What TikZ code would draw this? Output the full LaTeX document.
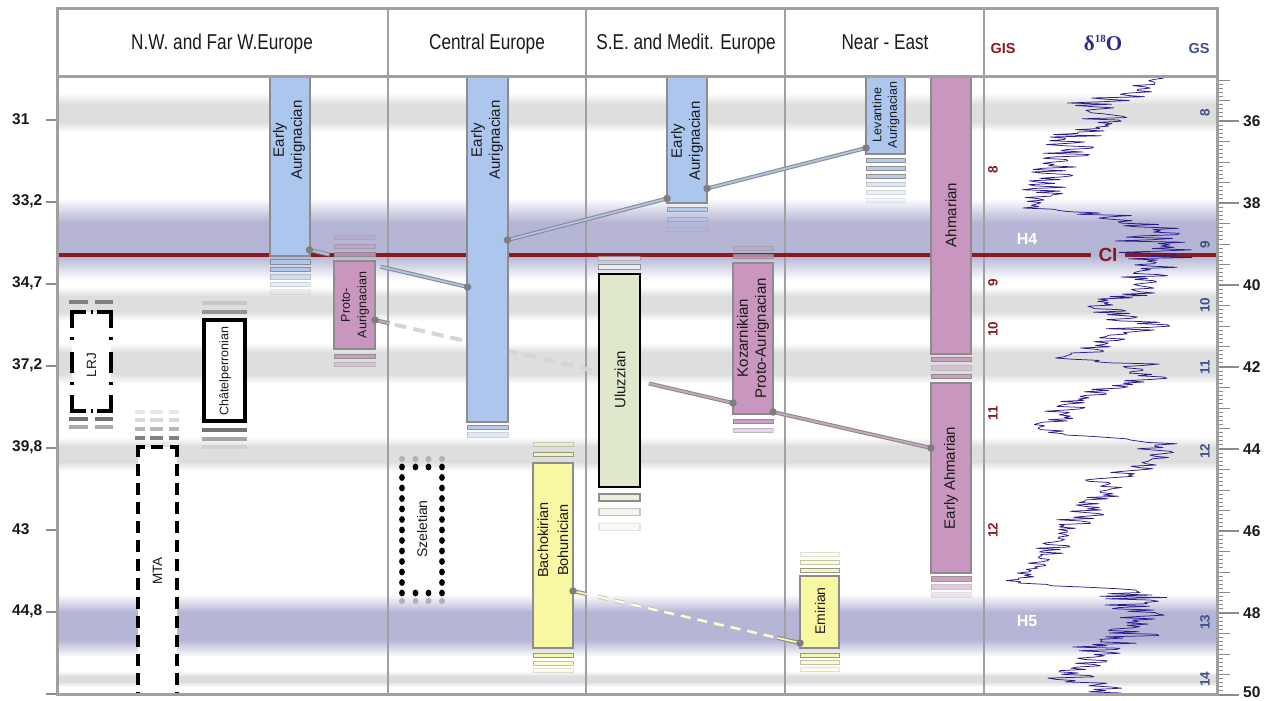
\documentclass[tikz,border=0pt]{standalone}
\usepackage{fontspec}
\setmainfont{Liberation Sans}
\newfontfamily\condf{Liberation Sans}[FakeStretch=0.8]
\newfontfamily\serf{Liberation Serif}
\usetikzlibrary{calc}
\definecolor{frm}{HTML}{A0A0A0}
\definecolor{bord}{HTML}{8C8C8C}
\definecolor{cblue}{HTML}{ADC6EE}
\definecolor{cpink}{HTML}{C896BE}
\definecolor{cpinkl}{HTML}{C9A6C2}
\definecolor{cyel}{HTML}{F8F7A2}
\definecolor{cgreen}{HTML}{DFE8CB}
\definecolor{gband}{HTML}{DEDEDE}
\definecolor{hband}{HTML}{B5B5D5}
\definecolor{cired}{HTML}{8B1A1F}
\definecolor{gsblue}{HTML}{40508A}
\definecolor{dblue}{HTML}{2C2A8C}
\definecolor{curvec}{HTML}{2A1E8E}
\definecolor{dotg}{HTML}{7E7E7E}
\definecolor{txt}{HTML}{1A1A1A}
\newcommand\myband[5]{%
  \shade[top color=white, bottom color=#5] (57,#1) rectangle (1217,#2+0.3);
  \fill[#5] (57,#2) rectangle (1217,#3);
  \shade[top color=#5, bottom color=white] (57,#3-0.3) rectangle (1217,#4);}
\newcommand\stp[5]{\draw[draw=bord, line width=0.9pt, fill=#4, opacity=#5] (#1,#3) rectangle ++(#2,4.5);}
\newcommand\gstp[4]{\fill[#4] (#1,#3) rectangle ++(#2,4);}
\begin{document}
\begin{tikzpicture}[x=1pt,y=-1pt,
  cbox/.style={draw=bord, line width=1.3pt, inner sep=0pt, outer sep=0pt, anchor=north west},
  dotn/.style={circle, fill=dotg, inner sep=0pt, minimum size=7.5pt},
  lbl/.style={rotate=90, text=txt, inner sep=0pt, align=center, font=\fontsize{15}{18}\selectfont},
  hdr/.style={anchor=base, text=txt, font=\condf\fontsize{21.5}{24}\selectfont},
  bconn/.style={draw=bord, line width=1.1pt, double=#1, double distance=1.8pt},
  ldash/.style={draw=black!16, line width=4pt, dash pattern=on 12pt off 7pt},
  ydash/.style={draw=black!24, line width=0.9pt, double=yellow!12, double distance=2.2pt, dash pattern=on 10pt off 7pt},
  tick/.style={draw=black!45, line width=1pt},
  gisn/.style={rotate=90, text=cired, inner sep=0pt, font=\bfseries\fontsize{13.5}{15}\selectfont},
  gsn/.style={rotate=90, text=gsblue, inner sep=0pt, font=\bfseries\fontsize{13.5}{15}\selectfont},
  axl/.style={anchor=west, inner sep=0pt, text=txt, font=\bfseries\fontsize{15.5}{17}\selectfont},
  blk/.style={black, line width=4pt}
]
\useasboundingbox (0,0) rectangle (1271,701);
\fill[white] (0,0) rectangle (1271,701);
% ---- bands
\myband{93}{104}{122}{132}{gband}
\myband{287}{296}{312}{321}{gband}
\myband{343}{352}{374}{384}{gband}
\myband{437}{446}{462}{471}{gband}
\myband{671}{676}{682}{687}{gband}
\myband{198}{222}{256}{280}{hband}
\myband{594}{612}{640}{657}{hband}
% ---- frame lines
\foreach \xx in {388,586,785,984} \draw[frm, line width=2.5pt] (\xx,9) -- (\xx,694);
% ---- CI line
\coordinate (ciL) at (57,255);
\coordinate (ciR) at (1216,255);
\node[text=cired, inner sep=7pt, font=\bfseries\fontsize{19}{21}\selectfont] (ci) at (1108,255) {CI};
\draw[cired, line width=4pt] (ciL) -- (ci.west);
\draw[cired, line width=4pt] (ci.east) -- (ciR);
% ---- connectors
\coordinate (p1) at (309.5,250);
\coordinate (p2) at (467.5,287);
\coordinate (p3) at (507.5,240);
\coordinate (p4) at (667,198.5);
\coordinate (p5) at (707,188.5);
\coordinate (p6) at (866,148);
\coordinate (q1) at (375,320);
\coordinate (q2) at (733,403);
\coordinate (q3) at (773,412);
\coordinate (q4) at (931,448);
\coordinate (r1) at (573,591);
\coordinate (r2) at (800,643);
\draw[bconn=cblue] (p1) -- ($(p1)!0.125!(p2)$);
\draw[bconn=cblue] ($(p1)!0.45!(p2)$) -- (p2);
\draw[bconn=cblue] (p3) -- (p4);
\draw[bconn=cblue] (p5) -- (p6);
\draw[bconn=cpinkl] (q1) -- ($(q1)!0.04!(q2)$);
\draw[ldash] ($(q1)!0.055!(q2)$) -- ($(q1)!0.62!(q2)$);
\draw[bconn=cpinkl] ($(q1)!0.765!(q2)$) -- (q2);
\draw[bconn=cpinkl] (q3) -- (q4);
\draw[bconn=cyel] (r1) -- ($(r1)!0.06!(r2)$);
\draw[ydash] ($(r1)!0.11!(r2)$) -- ($(r1)!0.89!(r2)$);
\draw[bconn=cyel] ($(r1)!0.9!(r2)$) -- (r2);
% ---- culture boxes
\node[cbox, fill=cblue, minimum width=40pt, minimum height=179pt] (eaNW) at (270,77) {};
\node[cbox, fill=cpink, minimum width=41pt, minimum height=88pt] (proNW) at (334,261) {};
\node[cbox, fill=cblue, minimum width=41pt, minimum height=345pt] (eaCE) at (467,77) {};
\node[cbox, fill=cyel, minimum width=40pt, minimum height=185pt] (bach) at (533,463) {};
\node[cbox, fill=cblue, minimum width=40pt, minimum height=126pt] (eaSE) at (667,77) {};
\node[cbox, draw=black, line width=2.5pt, fill=cgreen, minimum width=41pt, minimum height=213pt] (uluz) at (599,274) {};
\node[cbox, fill=cpink, minimum width=40pt, minimum height=151pt] (koz) at (733,263) {};
\node[cbox, fill=cblue, minimum width=39pt, minimum height=77pt] (lev) at (866,77) {};
\node[cbox, fill=cpink, minimum width=40pt, minimum height=277pt] (ahm) at (931,77) {};
\node[cbox, fill=cpink, minimum width=40pt, minimum height=190pt] (eahm) at (931,383) {};
\node[cbox, fill=cyel, minimum width=39pt, minimum height=72pt] (emir) at (800,576) {};
\node[cbox, draw=black, line width=4pt, fill=white, minimum width=41pt, minimum height=101pt] (chat) at (204,320) {};
% LRJ (dash-dot frame)
\fill[white] (72,312) rectangle (111,411);
\draw[blk] (86,312) -- (72,312) -- (72,328);
\draw[blk] (97,312) -- (111,312) -- (111,328);
\draw[blk] (72,395) -- (72,411) -- (86,411);
\draw[blk] (111,395) -- (111,411) -- (97,411);
\draw[blk] (72,352) -- (72,373); \draw[blk] (111,352) -- (111,373);
\draw[blk] (72,337) -- (72,340); \draw[blk] (111,337) -- (111,340);
\draw[blk] (72,382) -- (72,385); \draw[blk] (111,382) -- (111,385);
\draw[blk] (90.5,312) -- (92.5,312); \draw[blk] (90.5,411) -- (92.5,411);
% MTA (dashed frame)
\fill[white] (138,447) rectangle (177,694);
\draw[blk, line width=4.5pt, dash pattern=on 12pt off 7pt] (138,445) -- (138,694);
\draw[blk, line width=4.5pt, dash pattern=on 12pt off 7pt] (177,445) -- (177,694);
\draw[blk, line width=4.5pt] (136,447) -- (145,447); \draw[blk, line width=4.5pt] (151,447) -- (163,447); \draw[blk, line width=4.5pt] (170,447) -- (179,447);
% Szeletian (dotted frame)
\fill[white] (402,467) rectangle (442,593);
\foreach \k in {0,...,12} {\fill[black] (402,467+\k*10.5) ellipse (2.9 and 3.4); \fill[black] (442,467+\k*10.5) ellipse (2.9 and 3.4);}
\foreach \xx in {415.5,428.5} {\fill[black] (\xx,467) ellipse (2.9 and 3.4); \fill[black] (\xx,593) ellipse (2.9 and 3.4);}
\foreach \xx in {402,415.5,428.5,442} {\fill[black!30] (\xx,459) circle (3); \fill[black!30] (\xx,601) circle (3);}
% ---- stripes
\stp{270}{40}{259.5}{cblue}{1}\stp{270}{40}{267}{cblue}{0.9}\stp{270}{40}{274.5}{cblue}{0.5}\stp{270}{40}{282}{cblue}{0.3}\stp{270}{40}{289.5}{cblue}{0.15}
\stp{334}{41}{235}{cpink}{0.25}\stp{334}{41}{244}{cpink}{0.5}\stp{334}{41}{252}{cpink}{0.9}
\stp{334}{41}{354}{cpink}{0.9}\stp{334}{41}{362}{cpink}{0.35}
\gstp{202}{45}{301}{black!22}\gstp{202}{45}{310}{black!42}
\gstp{202}{45}{428}{black!55}\gstp{202}{45}{437}{black!35}\gstp{202}{45}{445}{black!18}
\foreach \xa/\xw in {69/19,95/18} {\gstp{\xa}{\xw}{300}{black!50}\gstp{\xa}{\xw}{417}{black!55}\gstp{\xa}{\xw}{425}{black!33}}
\foreach \xa/\xw in {135/10,150/13,169/10} {\gstp{\xa}{\xw}{410}{black!9}\gstp{\xa}{\xw}{418}{black!15}\gstp{\xa}{\xw}{427}{black!28}\gstp{\xa}{\xw}{436}{black!50}}
\stp{467}{41}{425}{cblue}{0.9}\stp{467}{41}{432.5}{cblue}{0.4}
\stp{533}{40}{442}{cyel}{0.4}\stp{533}{40}{452}{cyel}{0.9}
\stp{533}{40}{653}{cyel}{0.9}\stp{533}{40}{661}{cyel}{0.5}\stp{533}{40}{668}{cyel}{0.25}
\stp{667}{40}{207}{cblue}{0.8}\stp{667}{40}{217}{cblue}{0.45}\stp{667}{40}{227}{cblue}{0.2}
\stp{598}{42}{256}{black!5}{0.5}\stp{598}{42}{264.5}{black!6}{0.9}
\draw[draw=black!45, line width=1.6pt, fill=cgreen!70] (599,494) rectangle ++(41,7);
\draw[draw=black!45, line width=1.6pt, fill=cgreen!70, opacity=0.5] (599,508.5) rectangle ++(41,7);
\draw[draw=black!45, line width=1.6pt, fill=cgreen!70, opacity=0.22] (599,523.5) rectangle ++(41,7);
\stp{733}{40}{246}{cpink}{0.35}\stp{733}{40}{254}{cpink}{0.8}
\stp{733}{40}{419}{cpink}{0.9}\stp{733}{40}{428}{cpink}{0.4}
\stp{866}{39}{158}{cblue}{0.9}\stp{866}{39}{166}{cblue}{0.9}\stp{866}{39}{174}{cblue}{0.9}
\stp{866}{39}{182}{cblue}{0.4}\stp{866}{39}{190}{cblue}{0.25}\stp{866}{39}{198}{cblue}{0.13}
\stp{931}{40}{357}{cpink}{0.9}\stp{931}{40}{365.5}{cpink}{0.4}\stp{931}{40}{374}{cpink}{0.9}
\stp{931}{40}{576.5}{cpink}{0.9}\stp{931}{40}{584.5}{cpink}{0.5}\stp{931}{40}{592.5}{cpink}{0.25}
\stp{800}{39}{552}{cyel}{0.25}\stp{800}{39}{560}{cyel}{0.5}\stp{800}{39}{568}{cyel}{0.9}
\stp{800}{39}{653}{cyel}{0.9}\stp{800}{39}{660}{cyel}{0.5}\stp{800}{39}{667}{cyel}{0.25}
% ---- dots
\foreach \pp in {p1,p2,p3,p4,p5,p6,q1,q2,q3,q4,r1,r2} \node[dotn] (d\pp) at (\pp) {};
% ---- culture labels
\node[lbl] (tEA1) at (289,140) {Early\\Aurignacian};
\node[lbl] (tEA2) at (487,140) {Early\\Aurignacian};
\node[lbl] (tEA3) at (687,141) {Early\\Aurignacian};
\node[lbl, font=\fontsize{12.5}{15.5}\selectfont] (tLev) at (886,115) {Levantine\\Aurignacian};
\node[lbl, font=\fontsize{12.5}{16.5}\selectfont] (tPro) at (355,305) {Proto-\\Aurignacian};
\node[lbl, font=\fontsize{12.5}{15}\selectfont] (tChat) at (225,371) {Châtelperronian};
\node[lbl, font=\fontsize{13.5}{15}\selectfont] (tLRJ) at (91.5,365) {LRJ};
\node[lbl, font=\fontsize{13.5}{15}\selectfont] (tMTA) at (157.5,571) {MTA};
\node[lbl, font=\fontsize{14}{16}\selectfont] (tSz) at (422,529) {Szeletian};
\node[lbl] (tUl) at (620,380) {Uluzzian};
\node[lbl, font=\fontsize{14.5}{20}\selectfont] (tBa) at (553,540) {Bachokirian\\Bohunician};
\node[lbl] (tKo) at (753,338) {Kozarnikian\\Proto-Aurignacian};
\node[lbl] (tAh) at (951,215) {Ahmarian};
\node[lbl] (tEAh) at (951,478) {Early Ahmarian};
\node[lbl, font=\fontsize{14}{16}\selectfont] (tEm) at (820,611) {Emirian};
% ---- delta 18O curve
\pgfmathsetseed{4242}
\draw[curvec, line width=0.75pt, line join=round] (1155,77)
\foreach \ya/\xa/\yb/\xb/\am/\nn in {
77/1155/93/1140/15/13, 93/1140/103/1095/30/8, 103/1095/120/1100/28/14, 120/1100/137/1075/28/14,
137/1075/157/1065/25/16, 157/1065/177/1050/25/16, 177/1050/200/1040/22/18, 200/1040/208/1025/12/6,
208/1025/213/1100/15/4, 213/1100/227/1150/28/11, 227/1150/260/1155/38/26, 260/1155/277/1150/30/14,
277/1150/293/1140/18/13, 293/1140/305/1095/22/10, 305/1095/317/1125/20/10, 317/1125/330/1140/35/10,
330/1140/343/1105/25/10, 343/1105/358/1065/22/12, 358/1065/364/1140/20/5, 364/1140/377/1150/20/10,
377/1150/393/1095/22/13, 393/1095/410/1065/20/14, 410/1065/427/1045/20/14, 427/1045/435/1060/12/6,
435/1060/440/1150/20/4, 440/1150/450/1160/28/8, 450/1160/470/1140/18/16, 470/1140/480/1105/22/8,
480/1105/510/1090/22/24, 510/1090/527/1065/22/14, 527/1065/557/1045/18/24, 557/1045/583/1015/12/21,
583/1015/590/1130/10/5, 590/1130/610/1135/35/16, 610/1135/633/1135/30/18, 633/1135/647/1100/32/11,
647/1100/667/1090/25/16, 667/1090/673/1065/15/5, 673/1065/687/1085/28/11, 687/1085/693/1110/35/5}
{ \foreach \ii in {1,...,\nn} { -- ({\xa+(\xb-\xa)*\ii/\nn+\am*rand},{\ya+(\yb-\ya)*\ii/\nn}) } };
\node[text=white, font=\bfseries\fontsize{16}{18}\selectfont] (h4) at (1027,239) {H4};
\node[text=white, font=\bfseries\fontsize{16}{18}\selectfont] (h5) at (1027,621) {H5};
% GIS / GS numbers
\foreach \yy/\tt in {170/8,283/9,329/10,413/11,530/12} \node[gisn] (gis\tt) at (993,\yy) {\tt};
\foreach \yy/\tt in {113/8,245/9,305/10,367/11,451/12,622/13,679/14} \node[gsn] (gs\tt) at (1205,\yy) {\tt};
% ---- axes
\foreach \k in {0,...,7} \draw[tick, line width=1.4pt] (46,120+\k*82) -- (57,120+\k*82);
\foreach \yy/\tt in {119/31,201/{33,2},283/{34,7},365/{37,2},447/{39,8},529/43,611/{44,8}} \node[axl] at (12,\yy) {\tt};
\foreach \k in {350,...,500} \draw[tick] (1217,{121+(\k-360)*4.1}) -- ++(6,0);
\foreach \k in {350,355,...,500} \draw[tick] (1217,{121+(\k-360)*4.1}) -- ++(13,0);
\foreach \k in {360,380,...,500} \draw[tick, line width=1.4pt] (1217,{121+(\k-360)*4.1}) -- ++(22,0);
\foreach \a in {36,38,...,48} \node[axl] at (1243,{121+(\a-36)*41}) {\a};
\node[axl] at (1243,692) {50};
% ---- header & frame
\draw[frm, line width=3pt] (57,76) -- (1217,76);
\draw[frm, line width=3pt] (57,9) rectangle (1217,694);
\node[hdr] (hNW) at (222,49) {N.W. and Far W.Europe};
\node[hdr] (hCE) at (487,49) {Central Europe};
\node[hdr] (hSE) at (686,49) {S.E. and Medit. Europe};
\node[hdr] (hNE) at (885,49) {Near - East};
\node[anchor=base, text=cired, font=\bfseries\fontsize{14.5}{16}\selectfont] (hGIS) at (1003,53) {GIS};
\node[anchor=base, text=gsblue, font=\bfseries\fontsize{14.5}{16}\selectfont] (hGS) at (1199,53) {GS};
\node[anchor=base, text=dblue, font=\serf\bfseries\fontsize{21}{24}\selectfont] (hD) at (1103,51) {δ\raisebox{0.42em}{\fontsize{11}{12}\selectfont 18}O};
\end{tikzpicture}
\end{document}
